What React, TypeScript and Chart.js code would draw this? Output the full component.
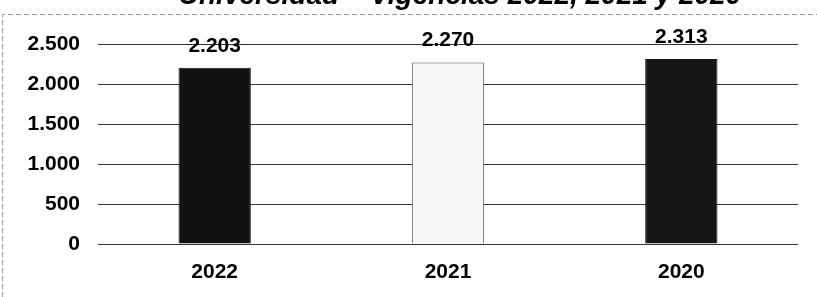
import React, { useEffect, useRef } from "react";
import { Chart, registerables } from "chart.js";

Chart.register(...registerables);

const TITLE = "Universidad – Vigencias 2022, 2021 y 2020";
const CATEGORIES = ["2022", "2021", "2020"];
const VALUES = [2203, 2270, 2313];
const BAR_COLORS = ["#111111", "#f6f6f6", "#161616"];
const BAR_BORDERS = ["#111111", "#555555", "#161616"];
const Y_MAX = 2500;
const Y_STEP = 500;

const fmt = (v: number) => v.toLocaleString("de-DE");

const FONT = "Arial, 'Liberation Sans', sans-serif";

const overlay = {
  id: "overlay",
  afterDraw(chart: any) {
    const ctx = chart.ctx;
    ctx.save();
    // frame
    ctx.strokeStyle = "#9a9a9a";
    ctx.lineWidth = 1;
    ctx.setLineDash([5, 3]);
    ctx.beginPath();
    ctx.moveTo(2.5, 297);
    ctx.lineTo(2.5, 14.5);
    ctx.lineTo(817, 14.5);
    ctx.stroke();
    ctx.setLineDash([]);
    // title (cut off at the top)
    ctx.fillStyle = "#000";
    ctx.font = `italic bold 28px ${FONT}`;
    ctx.textAlign = "center";
    ctx.textBaseline = "alphabetic";
    ctx.fillText(TITLE, 460, 4);
    // value labels
    const meta = chart.getDatasetMeta(0);
    ctx.font = `bold 21px ${FONT}`;
    meta.data.forEach((bar: any, i: number) => {
      ctx.fillText(fmt(VALUES[i]), bar.x, bar.y - 16);
    });
    ctx.restore();
  },
};

export default function App() {
  const ref = useRef<HTMLCanvasElement>(null);
  useEffect(() => {
    if (!ref.current) return;
    const chart = new Chart(ref.current, {
      type: "bar",
      data: {
        labels: CATEGORIES,
        datasets: [
          {
            data: VALUES,
            backgroundColor: BAR_COLORS,
            borderColor: BAR_BORDERS,
            borderWidth: 1,
            barPercentage: 0.31,
            categoryPercentage: 1,
          },
        ],
      },
      options: {
        responsive: false,
        animation: false,
        devicePixelRatio: 1,
        layout: { padding: { top: 44, right: 19, bottom: 0, left: 0 } },
        plugins: {
          legend: { display: false },
          tooltip: { enabled: false },
          title: { display: false },
        },
        scales: {
          x: {
            grid: { display: false, drawTicks: false },
            border: { display: false },
            ticks: {
              color: "#000",
              padding: 16,
              font: { family: FONT, size: 21, weight: "bold" },
            },
            afterFit: (s: any) => {
              s.height = 53;
            },
          },
          y: {
            min: 0,
            max: Y_MAX,
            grid: { color: "#333333", lineWidth: 1, drawTicks: false },
            border: { display: false },
            ticks: {
              stepSize: Y_STEP,
              color: "#000",
              padding: 18,
              font: { family: FONT, size: 21, weight: "bold" },
              callback: (v: any) => fmt(Number(v)),
            },
            afterFit: (s: any) => {
              s.width = 98;
            },
          },
        },
      },
      plugins: [overlay],
    });
    return () => chart.destroy();
  }, []);
  return (
    <div style={{ position: "absolute", left: 0, top: 0, width: 817, height: 297, background: "#fff" }}>
      <canvas ref={ref} width={817} height={297} style={{ display: "block" }} />
    </div>
  );
}
